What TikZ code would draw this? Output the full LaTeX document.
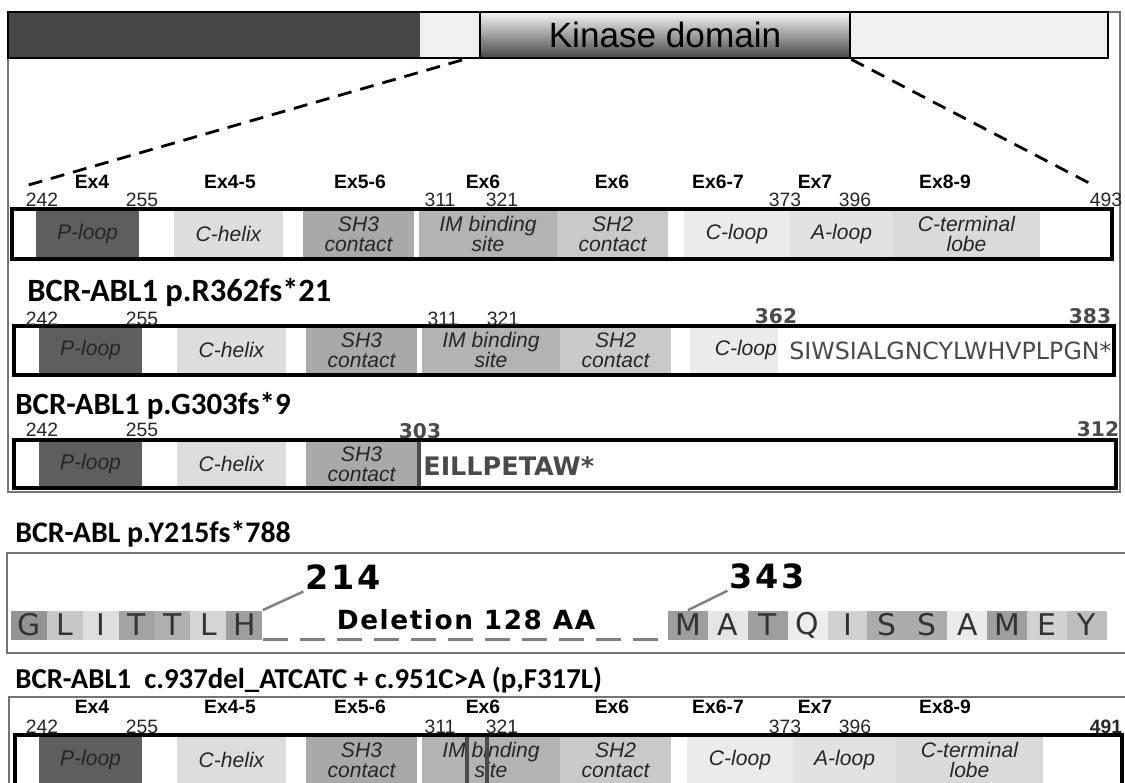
\documentclass[tikz,border=0pt]{standalone}
\usepackage{fontspec}
\setmainfont{Liberation Sans}
\newfontfamily\titlefont{Carlito}
\newfontfamily\seqfont{DejaVu Sans}
\usepackage{xcolor}
\usepackage{tikz}
\usetikzlibrary{positioning}

\definecolor{topdark}{HTML}{474747}
\definecolor{toplight}{HTML}{F0F0F0}
\definecolor{ploop}{HTML}{5E5E5E}
\definecolor{chelix}{HTML}{DDDDDD}
\definecolor{shthree}{HTML}{A9A9A9}
\definecolor{imsite}{HTML}{B3B3B3}
\definecolor{shtwo}{HTML}{C9C9C9}
\definecolor{cloop}{HTML}{EBEBEB}
\definecolor{aloop}{HTML}{E2E2E2}
\definecolor{cterm}{HTML}{DADADA}
\definecolor{cutgray}{HTML}{4A4A4A}

\begin{document}
\begin{tikzpicture}[x=0.02cm, y=-0.02cm,
  framegray/.style={draw=black!55, line width=0.6pt},
  barframe/.style={draw=black, line width=2pt},
  kinase/.style={draw=black, line width=1.6pt, minimum width=7.4cm, minimum height=0.92cm,
      top color=black!4, middle color=black!22, bottom color=black!72,
      font=\fontsize{20}{22}\selectfont},
  zoomline/.style={dash pattern=on 0.28cm off 0.18cm, line width=1.6pt},
  exlabel/.style={inner sep=1pt, font=\bfseries\fontsize{11}{12}\selectfont},
  poslabel/.style={inner sep=1pt, font=\fontsize{11}{12}\selectfont, text=black!85},
  cutlabel/.style={inner sep=1pt, font=\seqfont\bfseries\fontsize{11.5}{13}\selectfont, text=cutgray},
  seglabel/.style={font=\itshape\fontsize{12}{11.5}\selectfont, align=center, text=black!85, inner sep=1pt},
  bartitle/.style={anchor=west, inner sep=0pt, font=\titlefont\bfseries\fontsize{#1}{20}\selectfont},
  bartitle/.default=17,
  fstext/.style={anchor=west, inner sep=0pt, text=cutgray},
  cutline/.style={draw=cutgray, line width=1.8pt},
  aa/.style={minimum height=0.58cm, inner sep=0pt, text=black!80,
      font=\seqfont\fontsize{17}{18}\selectfont},
  aanum/.style={inner sep=1pt, font=\seqfont\bfseries\fontsize{19}{20}\selectfont\addfontfeature{LetterSpace=8}},
  delline/.style={draw=black!50, dash pattern=on 0.5cm off 0.24cm, line width=1.7pt},
  pin/.style={draw=black!50, line width=1.4pt}]

\useasboundingbox (0,0) rectangle (1125,782);
\clip (0,0) rectangle (1125,782);

% Frames
\draw[framegray] (8,12) rectangle (1120,492);
\draw[framegray] (7,553) rectangle (1140,653);
\draw[framegray] (9,800) -- (9,697) -- (1140,697);

% Full-length protein with kinase domain
\fill[topdark] (8,12) rectangle (420,58);
\fill[toplight] (420,12) rectangle (1108,58);
\node[kinase] (kin) at (665,35) {Kinase domain};
\draw[line width=1.6pt] (8,12) rectangle (1108,58);

% Zoom lines
\coordinate (kl) at (462,60);
\coordinate (zl) at (25,186);
\coordinate (zr) at (1093,185);
\draw[zoomline] (kl) -- (zl);
\draw[zoomline] (kin.south east) -- (zr);

% Kinase domain bars (wild type and double mutant)
\foreach \yt/\dx/\nm in {209/0/wt, 735/3/dm} {
  \fill[white] (12+\dx,\yt) rectangle (1112+\dx,\yt+50);
  \foreach \a/\b/\c/\t [count=\i] in {36/139/ploop/P-loop, 174/283/chelix/C-helix,
      303/414/shthree/{SH3\\contact}, 419/557/imsite/{IM binding\\site},
      557/668/shtwo/{SH2\\contact}, 684/790/cloop/C-loop, 790/893/aloop/A-loop,
      893/1040/cterm/{C-terminal\\lobe}} {
    \fill[\c] (\a+\dx,\yt) rectangle (\b+\dx,\yt+50);
    \node[seglabel] (\nm\i) at ({(\a+\b)/2+\dx},\yt+25) {\t};
  }
}
\foreach \yl/\nm in {182/wtex, 707/dmex}
  \foreach \x/\t [count=\i] in {92/Ex4, 230/Ex4-5, 360/Ex5-6, 483/Ex6, 612/Ex6,
      718/Ex6-7, 815/Ex7, 945/Ex8-9}
    \node[exlabel] (\nm\i) at (\x,\yl) {\t};
\foreach \yl/\nm in {200/wtpos, 727/dmpos}
  \foreach \x/\t [count=\i] in {42/242, 142/255, 440/311, 502/321, 785/373, 855/396}
    \node[poslabel] (\nm\i) at (\x,\yl) {\t};
\node[poslabel] (wtend) at (1106,200) {493};
\node[poslabel, font=\bfseries\fontsize{11}{12}\selectfont] (dmend) at (1106,727) {491};
\draw[barframe] (12,209) rectangle (1112,259);
\draw[cutline] (467,737) -- (467,790);
\draw[cutline] (487,737) -- (487,790);
\draw[barframe] (15,735) rectangle (1122,800);

% BCR-ABL1 p.R362fs*21
\node[bartitle=18.5] (fsa) at (27,292) {BCR-ABL1 p.R362fs*21};
\fill[white] (14,326) rectangle (1114,375);
\foreach \a/\b/\c/\t [count=\i] in {36/139/ploop/P-loop, 174/283/chelix/C-helix,
    303/414/shthree/{SH3\\contact}, 419/557/imsite/{IM binding\\site},
    557/668/shtwo/{SH2\\contact}} {
  \fill[\c] (\a+3,326) rectangle (\b+3,375);
  \node[seglabel] (fsa\i) at ({(\a+\b)/2+3},350) {\t};
}
\fill[cloop] (690,326) rectangle (778,375);
\node[seglabel, anchor=east] (fsacl) at (779,350) {C-loop};
\node[fstext, font=\seqfont\fontsize{13.5}{15}\selectfont] (fsaseq) at (789,351) {SIWSIALGNCYLWHVPLPGN*};
\draw[barframe] (14,326) rectangle (1114,375);
\foreach \x/\t [count=\i] in {42/242, 142/255, 443/311, 503/321}
  \node[poslabel] (fsapos\i) at (\x,318.5) {\t};
\node[cutlabel] (fsacut) at (776,316) {362};
\node[cutlabel] (fsaend) at (1090,316) {383};

% BCR-ABL1 p.G303fs*9
\node[bartitle=17.6] (fsb) at (15,406) {BCR-ABL1 p.G303fs*9};
\fill[white] (14,440) rectangle (1116,488);
\foreach \a/\b/\c/\t [count=\i] in {36/139/ploop/P-loop, 174/283/chelix/C-helix,
    303/414/shthree/{SH3\\contact}} {
  \fill[\c] (\a+3,440) rectangle (\b+3,488);
  \node[seglabel] (fsb\i) at ({(\a+\b)/2+3},464) {\t};
}
\draw[cutline] (419,442) -- (419,486);
\node[fstext, font=\seqfont\bfseries\fontsize{14.5}{16}\selectfont] (fsbseq) at (423,466) {EILLPETAW*};
\draw[barframe] (14,440) rectangle (1116,488);
\foreach \x/\t [count=\i] in {42/242, 142/255}
  \node[poslabel] (fsbpos\i) at (\x,430) {\t};
\node[cutlabel] (fsbcut) at (420,431) {303};
\node[cutlabel] (fsbend) at (1098,429) {312};

% BCR-ABL p.Y215fs*788
\node[bartitle] (del) at (15,534) {BCR-ABL p.Y215fs*788};
\foreach \l/\c [count=\i] in {G/black!42, L/black!22, I/black!13, T/black!36,
    T/black!31, L/black!16, H/black!38}
  \node[aa, minimum width=0.72cm, fill=\c] (g\i) at ({11+35.9*(\i-0.5)},625) {\l};
\foreach \l/\c [count=\i] in {M/black!38, A/black!10, T/black!38, Q/black!7,
    I/black!18, S/black!33, S/black!33, A/black!8, M/black!38, E/black!18, Y/black!26}
  \node[aa, minimum width=0.8cm, fill=\c] (m\i) at ({668+39.9*(\i-0.5)},625) {\l};
\node[aanum] (n214) at (343,577) {214};
\node[aanum] (n343) at (767,576) {343};
\draw[pin] (g7.north east) -- (n214.south west);
\draw[pin] (m1.north) -- (n343.south west);
\draw[delline] (g7.south east) -- (m1.south west);
\node[font=\seqfont\bfseries\fontsize{15}{16}\selectfont\addfontfeature{LetterSpace=6}]
  (dellabel) at (466,620) {Deletion 128 AA};

% BCR-ABL1 c.937del_ATCATC + c.951C>A
\node[bartitle=16.4] (dm) at (15,680) {BCR-ABL1\ \ c.937del\_ATCATC + c.951C>A (p,F317L)};

\end{tikzpicture}
\end{document}
